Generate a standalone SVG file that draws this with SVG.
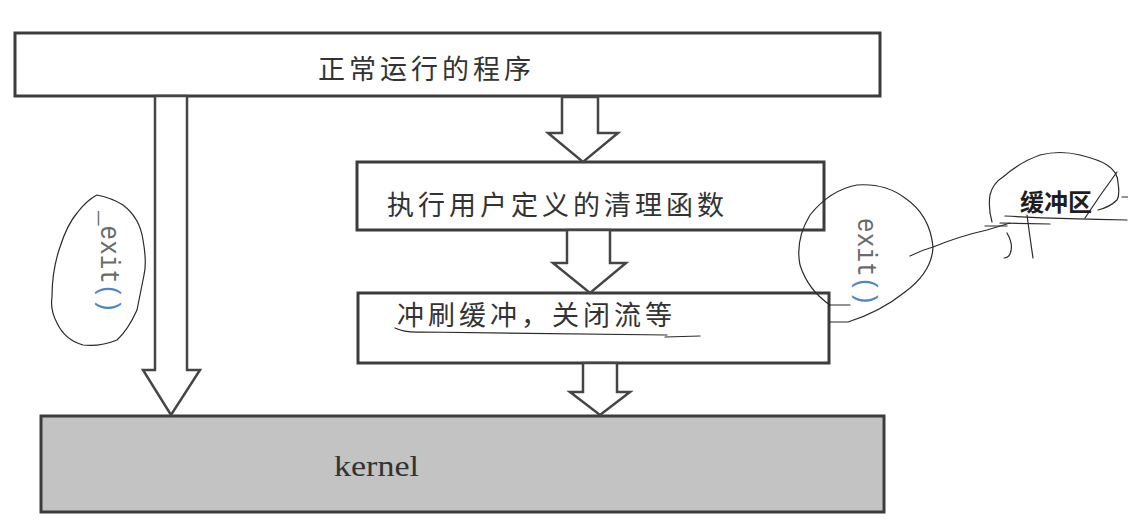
<svg xmlns="http://www.w3.org/2000/svg" width="1128" height="528" viewBox="0 0 1128 528">
<style>
.box{fill:#ffffff;stroke:#3c3c3c;stroke-width:3}
.kbox{fill:#c3c3c3;stroke:#3c3c3c;stroke-width:3}
.arrow{fill:#ffffff;stroke:#454545;stroke-width:2.5;stroke-linejoin:miter}
.cn{font-family:"Noto Sans CJK SC","Noto Sans",sans-serif;font-size:27px;fill:#333333;letter-spacing:4px}
.mono{font-family:"Liberation Mono","DejaVu Sans Mono",monospace;font-size:28px;fill:#6a6a6a}
.blue{fill:#4f87c5}
.pen{fill:none;stroke:#2a2a2a;stroke-width:1.2;stroke-linecap:round;stroke-linejoin:round}
</style>
<rect width="1128" height="528" fill="#ffffff"/>

<g id="node-program">
<rect class="box" x="15" y="33" width="865" height="63"/>
<text class="cn" x="318" y="79">正常运行的程序</text>
</g>

<g id="node-cleanup">
<rect class="box" x="357" y="162" width="467" height="68"/>
<text class="cn" x="387" y="215">执行用户定义的清理函数</text>
</g>

<g id="node-flush">
<rect class="box" x="358" y="293" width="471" height="70"/>
<text class="cn" x="397" y="325">冲刷缓冲，关闭流等</text>
<path class="pen" d="M395 328 Q405 333 423 332 L667 335 M665 337 L700 336"/>
</g>

<g id="node-kernel">
<rect class="kbox" x="41" y="416" width="843" height="96"/>
<text x="334" y="476" font-family="Liberation Serif,DejaVu Serif,serif" font-size="29" fill="#333333" textLength="85" lengthAdjust="spacingAndGlyphs">kernel</text>
</g>

<g id="connectors">
<path class="arrow" d="M155 96 L187 96 L187 370 L200 370 L171 415 L143 370 L155 370 Z"/>
<path class="arrow" d="M562 97 L598 97 L598 133 L618 133 L583 162 L548 133 L562 133 Z"/>
<path class="arrow" d="M567 230 L610 230 L610 263 L626 263 L590 293 L553 263 L567 263 Z"/>
<path class="arrow" d="M583 363 L617 363 L617 392 L630 392 L600 415 L570 392 L583 392 Z"/>
</g>

<g id="note-exit-underscore">
<path class="pen" d="M97 195 Q112 198 123 205 Q140 218 143 240 Q147 262 144 275 Q140 295 137 310 Q128 330 117 340 Q100 347 83 345 Q65 340 57 323 Q50 310 52 297 Q52 270 60 247 Q67 225 77 213 Q87 200 97 195 Z"/>
<text class="mono" transform="translate(101 211) rotate(90)" x="0" y="0" textLength="102" lengthAdjust="spacingAndGlyphs">_exit<tspan class="blue">()</tspan></text>
</g>

<g id="note-exit">
<path class="pen" d="M830 305 Q808 290 800 265 Q795 240 810 215 Q830 190 857 185 Q885 183 905 198 Q930 215 933 247 Q932 272 905 292 Q880 312 848 322 L830 322"/>
<path class="pen" d="M830 305 L850 305"/>
<text class="mono" transform="translate(858 218) rotate(90)" x="0" y="0" font-size="26" textLength="88" lengthAdjust="spacingAndGlyphs">exit<tspan class="blue">()</tspan></text>
<path class="pen" d="M910 256 Q922 250 933 247 Q960 236 987 230 L1010 223"/>
</g>

<g id="note-buffer">
<path class="pen" d="M992 222 Q988 208 990 195 Q993 183 1003 177 Q1020 162 1040 155 Q1060 150 1080 155 Q1100 160 1107 165 Q1118 172 1118 183 Q1120 195 1117 200 Q1110 207 1098 210"/>
<path class="pen" d="M1117 172 Q1100 195 1085 218"/>
<path class="pen" d="M1005 216 Q1060 219 1127 220"/>
<path class="pen" d="M1000 223 L1050 224"/>
<path class="pen" d="M1122 197 L1128 197"/>
<path class="pen" d="M985 226 L1007 226"/>
<path class="pen" d="M1027 215 Q1030 238 1033 258"/>
<path class="pen" d="M1007 233 Q1014 245 1010 254 Q1008 258 1004 258"/>
<text x="1020" y="211" font-family="Noto Sans CJK SC,Noto Sans,sans-serif" font-size="24" font-weight="bold" fill="#1e1e1e">缓冲区</text>
</g>
</svg>
